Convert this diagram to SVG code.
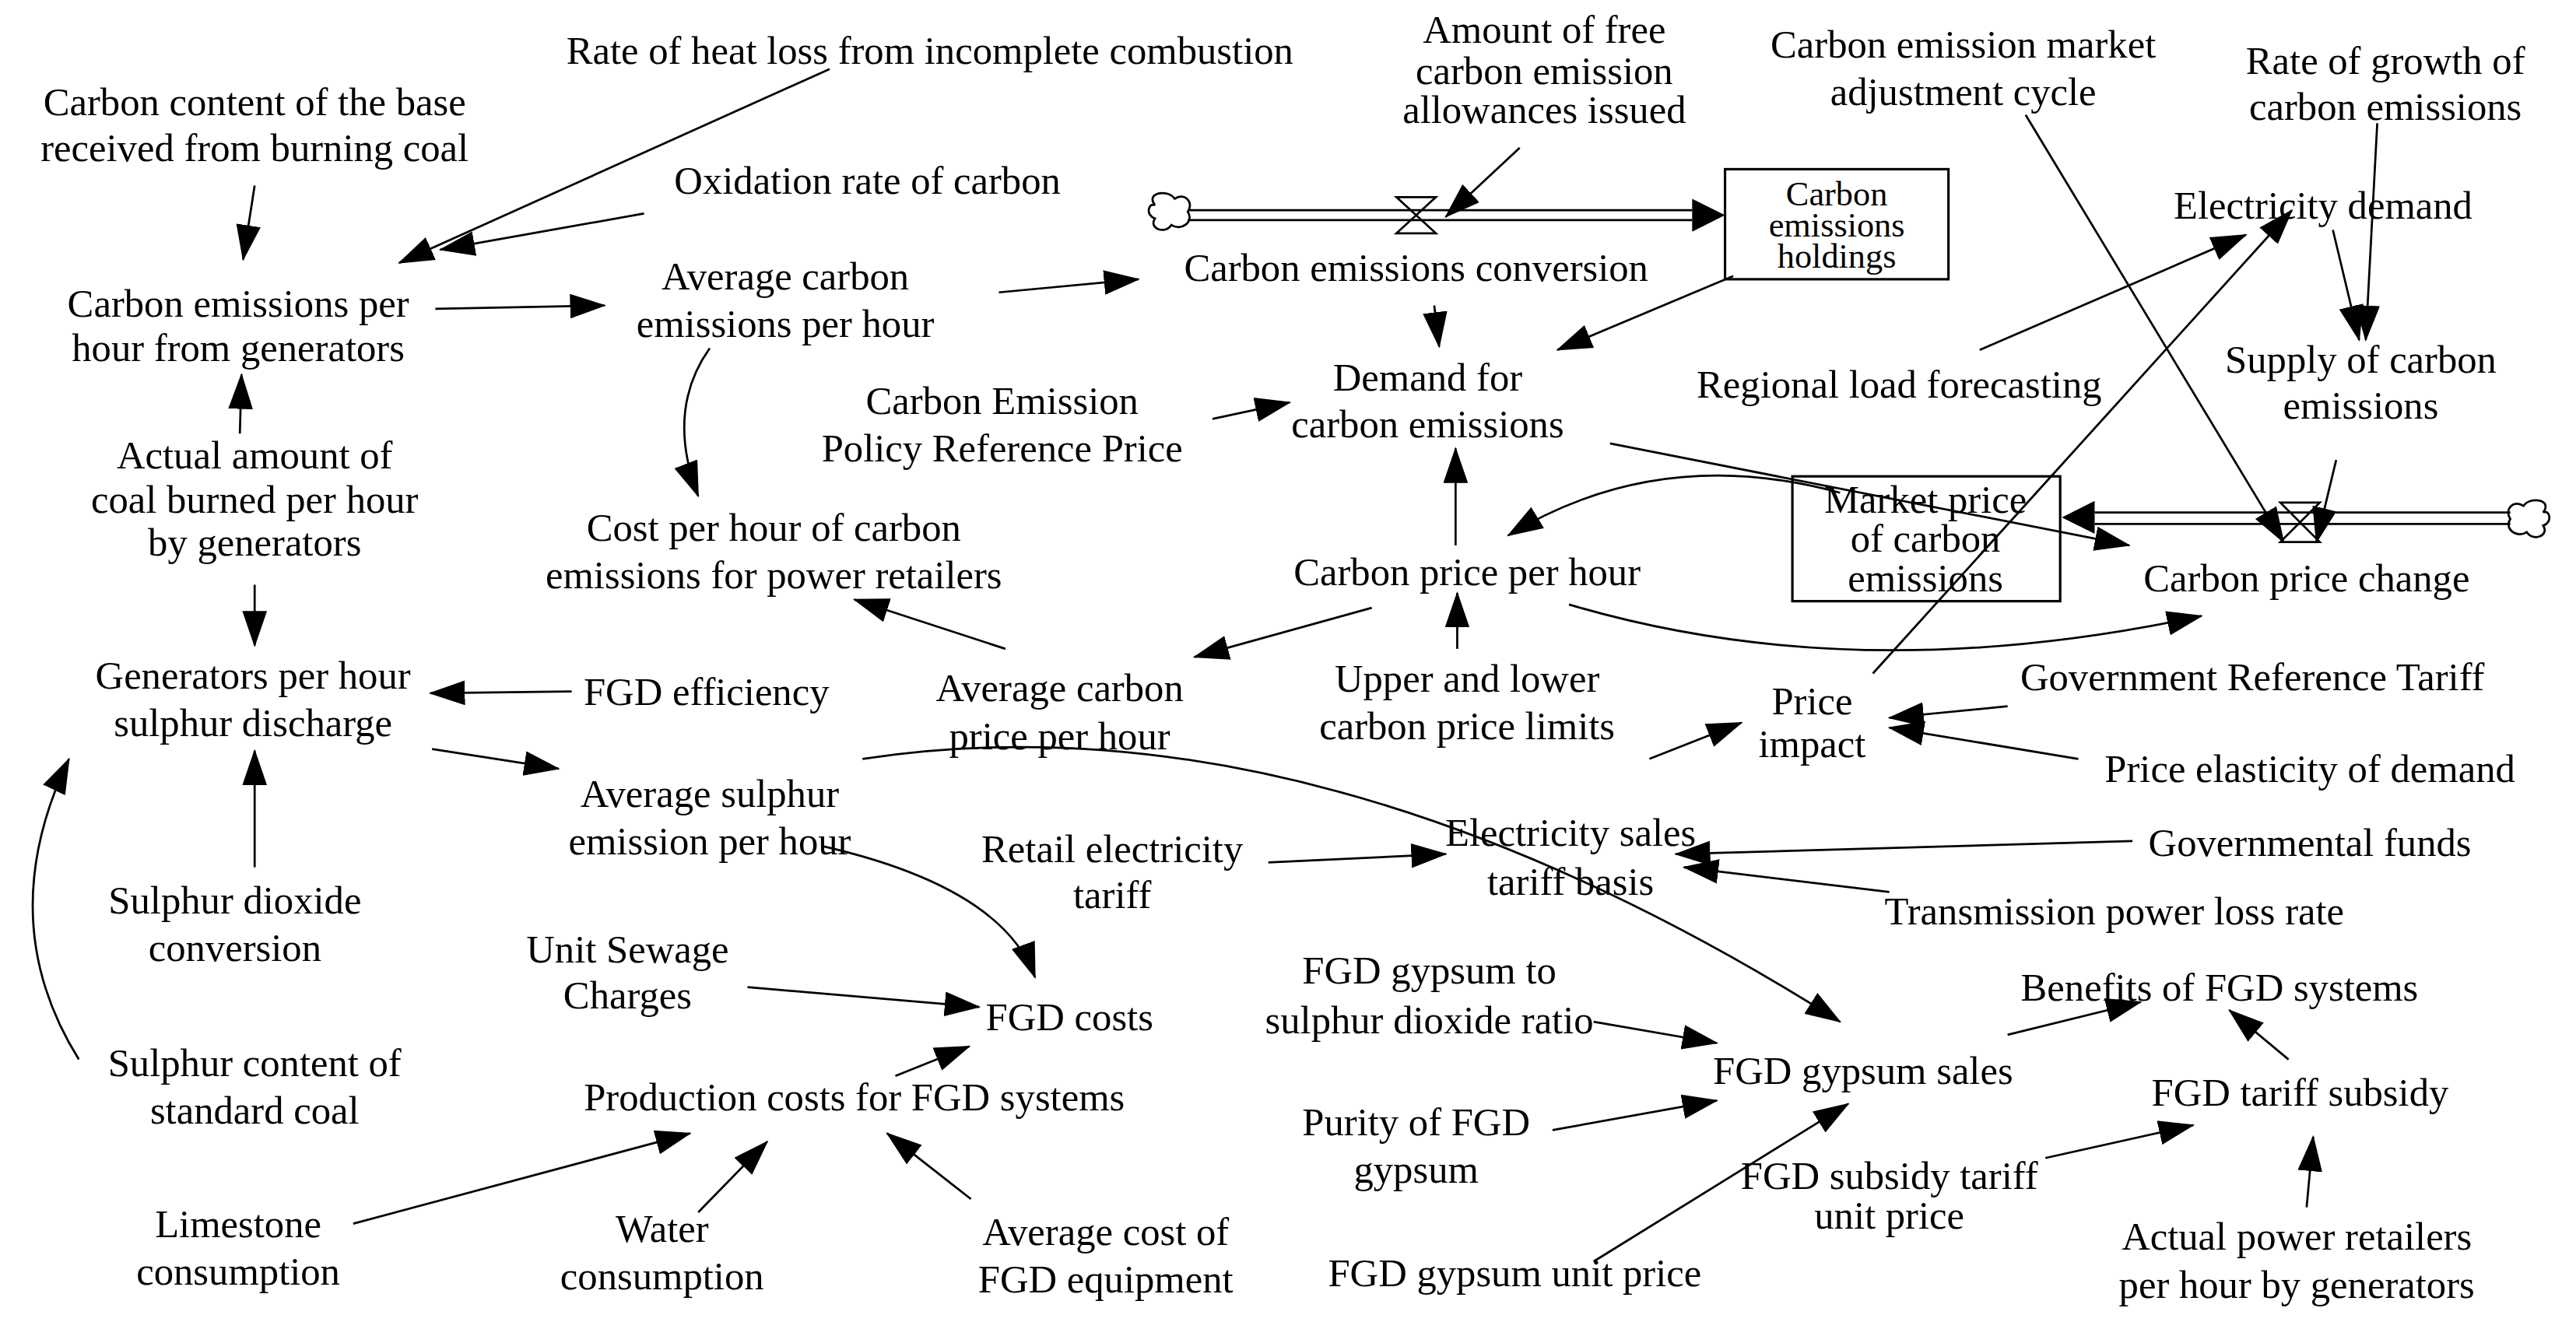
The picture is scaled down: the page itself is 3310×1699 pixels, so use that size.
<svg xmlns="http://www.w3.org/2000/svg" width="3310" height="1699" viewBox="0 0 3310 1699">
<defs>
<style>
text{font-family:"Liberation Serif","Times New Roman",serif;font-size:24px;fill:#000;text-anchor:middle}
.c path,.c line{fill:none;stroke:#000;stroke-width:1.3;marker-end:url(#ah)}
.pipe{fill:none;stroke:#000;stroke-width:1.3}
.box{fill:none;stroke:#000;stroke-width:1.5}
.sm{font-size:21px}
</style>
<marker id="ah" viewBox="0 0 22 15" refX="21" refY="7.5" markerWidth="22" markerHeight="15" markerUnits="userSpaceOnUse" orient="auto"><path d="M0,0 L22,7.5 L0,15 Z" fill="#000"/></marker>
</defs>
<rect width="3310" height="1699" fill="#fff"/>
<g transform="scale(2.111)">
<g id="flows">
<path d="M703,125 c-6,-8 8,-10 12,-4 c6,-4 12,2 8,8 c4,6 -4,12 -10,8 c-4,6 -14,2 -10,-4 c-6,-2 -4,-10 0,-8z" class="pipe"/>
<line x1="723" y1="128" x2="1030" y2="128" class="pipe"/><line x1="723" y1="134" x2="1030" y2="134" class="pipe"/>
<path d="M1030,121 L1050,131 L1030,141 Z"/>
<path d="M850,120 L874,120 L850,142 L874,142 Z" class="pipe"/>
<path d="M1548,312 c6,-8 -8,-10 -12,-4 c-6,-4 -12,2 -8,8 c-4,6 4,12 10,8 c4,6 14,2 10,-4 c6,-2 4,-10 0,-8z" class="pipe"/>
<line x1="1528" y1="312" x2="1275" y2="312" class="pipe"/><line x1="1528" y1="319" x2="1275" y2="319" class="pipe"/>
<path d="M1275,305 L1255,315 L1275,325 Z"/>
<path d="M1388,306 L1412,306 L1388,330 L1412,330 Z" class="pipe"/>
</g>
<g class="c" id="connectors">
<line x1="505" y1="42" x2="243" y2="160"/>
<line x1="155" y1="113" x2="148" y2="158"/>
<line x1="392" y1="130" x2="268" y2="152"/>
<line x1="265" y1="188" x2="368" y2="186"/>
<line x1="608" y1="178" x2="693" y2="170"/>
<path d="M432,212 Q405,250 425,302"/>
<line x1="146" y1="264" x2="147" y2="228"/>
<line x1="155" y1="356" x2="155" y2="393"/>
<line x1="348" y1="421" x2="262" y2="422"/>
<line x1="155" y1="528" x2="155" y2="457"/>
<path d="M48,645 Q-5,560 42,462"/>
<line x1="263" y1="456" x2="340" y2="468"/>
<path d="M500,515 Q610,540 630,595"/>
<line x1="455" y1="601" x2="596" y2="613"/>
<line x1="545" y1="655" x2="590" y2="637"/>
<line x1="215" y1="745" x2="420" y2="690"/>
<line x1="425" y1="738" x2="467" y2="695"/>
<line x1="591" y1="730" x2="540" y2="690"/>
<line x1="612" y1="395" x2="520" y2="365"/>
<line x1="835" y1="370" x2="727" y2="400"/>
<line x1="886" y1="332" x2="886" y2="273"/>
<line x1="887" y1="395" x2="887" y2="361"/>
<line x1="873" y1="186" x2="876" y2="211"/>
<line x1="1055" y1="168" x2="948" y2="213"/>
<line x1="738" y1="255" x2="785" y2="245"/>
<line x1="980" y1="270" x2="1296" y2="332"/>
<path d="M1120,300 Q1010,270 918,326"/>
<path d="M955,368 Q1130,420 1340,375"/>
<line x1="1004" y1="462" x2="1060" y2="440"/>
<line x1="1140" y1="410" x2="1395" y2="128"/>
<line x1="1205" y1="213" x2="1367" y2="143"/>
<line x1="1420" y1="140" x2="1436" y2="207"/>
<line x1="1447" y1="75" x2="1440" y2="207"/>
<line x1="1422" y1="280" x2="1410" y2="330"/>
<line x1="1233" y1="70" x2="1390" y2="330"/>
<line x1="925" y1="90" x2="880" y2="132"/>
<line x1="1222" y1="430" x2="1150" y2="437"/>
<line x1="1265" y1="462" x2="1150" y2="443"/>
<line x1="772" y1="525" x2="880" y2="520"/>
<line x1="1298" y1="512" x2="1020" y2="520"/>
<line x1="1150" y1="543" x2="1025" y2="528"/>
<path d="M525,462 Q800,420 1120,622"/>
<line x1="970" y1="622" x2="1045" y2="635"/>
<line x1="945" y1="688" x2="1045" y2="670"/>
<line x1="970" y1="768" x2="1125" y2="672"/>
<line x1="1222" y1="630" x2="1303" y2="610"/>
<line x1="1393" y1="645" x2="1357" y2="615"/>
<line x1="1245" y1="705" x2="1335" y2="685"/>
<line x1="1404" y1="735" x2="1408" y2="692"/>
</g>
<g id="n_heatloss"><text x="566" y="39">Rate of heat loss from incomplete combustion</text></g>
<g id="n_carboncontent"><text x="155" y="70">Carbon content of the base</text><text x="155" y="98">received from burning coal</text></g>
<g id="n_oxidation"><text x="528" y="118">Oxidation rate of carbon</text></g>
<g id="n_freeallow"><text x="940" y="26">Amount of free</text><text x="940" y="51">carbon emission</text><text x="940" y="75">allowances issued</text></g>
<g id="n_adjcycle"><text x="1195" y="35">Carbon emission market</text><text x="1195" y="64">adjustment cycle</text></g>
<g id="n_growth"><text x="1452" y="45">Rate of growth of</text><text x="1452" y="73">carbon emissions</text></g>
<g id="n_ceperhour"><text x="145" y="193">Carbon emissions per</text><text x="145" y="220">hour from generators</text></g>
<g id="n_avgce"><text x="478" y="176">Average carbon</text><text x="478" y="205">emissions per hour</text></g>
<g id="n_ceconv"><text x="862" y="171">Carbon emissions conversion</text></g>
<g id="n_holdings"><rect class="box" x="1050" y="103" width="136" height="67"/><text class="sm" x="1118" y="125">Carbon</text><text class="sm" x="1118" y="144">emissions</text><text class="sm" x="1118" y="163">holdings</text></g>
<g id="n_elecdemand"><text x="1414" y="133">Electricity demand</text></g>
<g id="n_demand"><text x="869" y="238">Demand for</text><text x="869" y="266">carbon emissions</text></g>
<g id="n_policyref"><text x="610" y="252">Carbon Emission</text><text x="610" y="281">Policy Reference Price</text></g>
<g id="n_regional"><text x="1156" y="242">Regional load forecasting</text></g>
<g id="n_supply"><text x="1437" y="227">Supply of carbon</text><text x="1437" y="255">emissions</text></g>
<g id="n_coal"><text x="155" y="285">Actual amount of</text><text x="155" y="312">coal burned per hour</text><text x="155" y="338">by generators</text></g>
<g id="n_costcarbon"><text x="471" y="329">Cost per hour of carbon</text><text x="471" y="358">emissions for power retailers</text></g>
<g id="n_cprice"><text x="893" y="356">Carbon price per hour</text></g>
<g id="n_market"><rect class="box" x="1091" y="290" width="163" height="76"/><text x="1172" y="312">Market price</text><text x="1172" y="336">of carbon</text><text x="1172" y="360">emissions</text></g>
<g id="n_cpchange"><text x="1404" y="360">Carbon price change</text></g>
<g id="n_gensulphur"><text x="154" y="419">Generators per hour</text><text x="154" y="448">sulphur discharge</text></g>
<g id="n_fgdeff"><text x="430" y="429">FGD efficiency</text></g>
<g id="n_avgcprice"><text x="645" y="427">Average carbon</text><text x="645" y="456">price per hour</text></g>
<g id="n_limits"><text x="893" y="421">Upper and lower</text><text x="893" y="450">carbon price limits</text></g>
<g id="n_priceimpact"><text x="1103" y="435">Price</text><text x="1103" y="461">impact</text></g>
<g id="n_govref"><text x="1371" y="420">Government Reference Tariff</text></g>
<g id="n_elasticity"><text x="1406" y="476">Price elasticity of demand</text></g>
<g id="n_avgsulphur"><text x="432" y="491">Average sulphur</text><text x="432" y="520">emission per hour</text></g>
<g id="n_salesbasis"><text x="956" y="515">Electricity sales</text><text x="956" y="545">tariff basis</text></g>
<g id="n_retail"><text x="677" y="525">Retail electricity</text><text x="677" y="553">tariff</text></g>
<g id="n_govfunds"><text x="1406" y="521">Governmental funds</text></g>
<g id="n_transloss"><text x="1287" y="563">Transmission power loss rate</text></g>
<g id="n_so2conv"><text x="143" y="556">Sulphur dioxide</text><text x="143" y="585">conversion</text></g>
<g id="n_sewage"><text x="382" y="586">Unit Sewage</text><text x="382" y="614">Charges</text></g>
<g id="n_fgdcosts"><text x="651" y="627">FGD costs</text></g>
<g id="n_ratio"><text x="870" y="599">FGD gypsum to</text><text x="870" y="629">sulphur dioxide ratio</text></g>
<g id="n_benefits"><text x="1351" y="609">Benefits of FGD systems</text></g>
<g id="n_sulphurcontent"><text x="155" y="655">Sulphur content of</text><text x="155" y="684">standard coal</text></g>
<g id="n_production"><text x="520" y="676">Production costs for FGD systems</text></g>
<g id="n_gypsumsales"><text x="1134" y="660">FGD gypsum sales</text></g>
<g id="n_tariffsubsidy"><text x="1400" y="673">FGD tariff subsidy</text></g>
<g id="n_purity"><text x="862" y="691">Purity of FGD</text><text x="862" y="720">gypsum</text></g>
<g id="n_subsidyprice"><text x="1150" y="724">FGD subsidy tariff</text><text x="1150" y="748">unit price</text></g>
<g id="n_limestone"><text x="145" y="753">Limestone</text><text x="145" y="782">consumption</text></g>
<g id="n_water"><text x="403" y="756">Water</text><text x="403" y="785">consumption</text></g>
<g id="n_avgcostfgd"><text x="673" y="758">Average cost of</text><text x="673" y="787">FGD equipment</text></g>
<g id="n_gypsumprice"><text x="922" y="783">FGD gypsum unit price</text></g>
<g id="n_actualpower"><text x="1398" y="761">Actual power retailers</text><text x="1398" y="790">per hour by generators</text></g>
</g>
</svg>
